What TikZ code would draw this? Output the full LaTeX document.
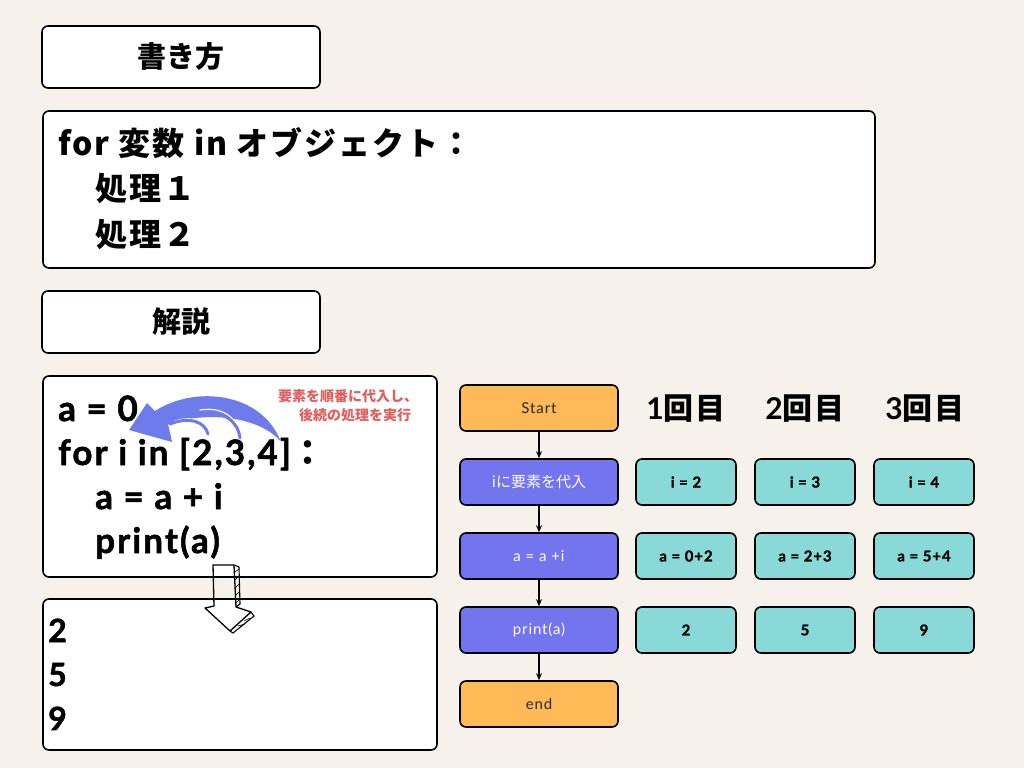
\documentclass[tikz,border=0pt]{standalone}
\usepackage{fontspec}
\setmainfont{Lato}
\newfontfamily\lat{Lato}[LetterSpace=6, BoldFeatures={FakeBold=1.5}]
\newfontfamily\latw{Lato}[LetterSpace=6, BoldFeatures={FakeBold=1.2}]
\newfontfamily\cjk{Noto Sans CJK JP}
\newfontfamily\cjkw{Noto Sans CJK JP}[LetterSpace=6]
\usetikzlibrary{arrows.meta}
\definecolor{bg}{HTML}{F6F2EB}
\definecolor{orng}{HTML}{FFB957}
\definecolor{viol}{HTML}{7275EE}
\definecolor{teal2}{HTML}{88D9D8}
\definecolor{redtxt}{HTML}{E35D5D}
\definecolor{bluearr}{HTML}{6E7BEB}
\tikzset{
  panel/.style={draw=black, line width=1.6pt, fill=white, rounded corners=6pt},
  flow/.style={draw=black, line width=1.6pt, rounded corners=6pt, minimum width=158pt, minimum height=46pt, inner sep=0pt, font=\latw\fontsize{15}{15}\selectfont},
  orbox/.style={flow, fill=orng, text=black!85},
  vibox/.style={flow, fill=viol, text=white},
  tbox/.style={draw=black, line width=1.6pt, rounded corners=6pt, fill=teal2, minimum width=100pt, minimum height=46pt, inner sep=0pt, font=\latw\fontsize{15}{15}\selectfont\bfseries},
  farrow/.style={-{Stealth[length=7pt,width=6pt]}, line width=1.3pt},
  codetxt/.style={anchor=base west, inner sep=0pt, font=\lat\fontsize{35}{35}\selectfont\bfseries},
  cjktxt/.style={anchor=base west, inner sep=0pt, font=\cjkw\fontsize{32}{32}\selectfont\bfseries},
  head/.style={inner sep=0pt, font=\fontsize{30}{30}\selectfont\bfseries}
}
\begin{document}
\begin{tikzpicture}[x=1pt,y=-1pt]
\fill[bg] (0,0) rectangle (1024,768);
\useasboundingbox (0,0) rectangle (1024,768);

% title boxes
\node[panel, minimum width=278pt, minimum height=62pt, inner sep=0pt, font=\cjk\fontsize{29}{29}\selectfont\bfseries] (t1) at (181,57) {書き方};
\draw[panel] (43,111) rectangle (875,268);
\node[cjktxt] (l1) at (58,155) {for 変数 in オブジェクト：};
\node[cjktxt] (l2) at (95,200) {処理１};
\node[cjktxt] (l3) at (95,246) {処理２};
\node[panel, minimum width=278pt, minimum height=62pt, inner sep=0pt, font=\cjk\fontsize{29}{29}\selectfont\bfseries] (t2) at (181,322) {解説};

% code box
\draw[panel] (43,376) rectangle (437,577);
\node[codetxt] (c1) at (58,421) {a = 0};
\node[codetxt] (c2) at (58,465) {for i in [2,3,4]{\cjk：}};
\node[codetxt] (c3) at (95,509) {a = a + i};
\node[codetxt] (c4) at (95,553) {print(a)};
\node[text=redtxt, inner sep=0pt, align=center, font=\cjk\fontsize{14}{19}\selectfont\bfseries] (note) at (348,406) {要素を順番に代入し、\\\hspace*{14pt}後続の処理を実行};

% blue curved arrow
\fill[bluearr] (129,430) -- (147,403) -- (155,411)
  .. controls (195,385) and (262,392) .. (281,442)
  .. controls (262,418) and (210,410) .. (168,424)
  -- (172,442) -- cycle;
\draw[white, line width=1.2pt, line cap=round] (175,421) .. controls (195,415) and (205,422) .. (209,432);
\draw[white, line width=1.2pt, line cap=round] (200,410) .. controls (225,406) and (238,420) .. (241,436);
\draw[bluearr, line width=3pt, line cap=round] (170,424) .. controls (190,416) and (205,422) .. (208,434);
\draw[bluearr, line width=3pt, line cap=round] (200,414) .. controls (225,410) and (238,422) .. (240,438);

% output box
\draw[panel] (43,599) rectangle (437,750);
\node[codetxt, font=\lat\fontsize{32}{32}\selectfont\bfseries] (o1) at (48,642) {2};
\node[codetxt, font=\lat\fontsize{32}{32}\selectfont\bfseries] (o2) at (48,686) {5};
\node[codetxt, font=\lat\fontsize{32}{32}\selectfont\bfseries] (o3) at (48,730) {9};

% hand drawn down arrow
\draw[line width=1.3pt, line join=round] (213,565) -- (214,606) -- (205,608) -- (230,631) -- (251,612) -- (236,607) -- (234,565) -- cycle;
\draw[line width=1.1pt] (234,565) -- (239,567) -- (240,604) -- (236,607);
\draw[line width=0.6pt] (235,572) -- (239,569) (235,580) -- (239,576) (235,588) -- (239,584) (235,596) -- (239,592) (236,603) -- (239,600);
\draw[line width=1.1pt] (251,612) -- (254,616) -- (233,633) -- (230,631);
\draw[line width=0.6pt] (238,626) -- (245,624) (244,621) -- (250,618);

% flowchart
\node[orbox] (s) at (539,408) {Start};
\node[vibox, font=\cjk\fontsize{15}{15}\selectfont] (f1) at (539,482) {iに要素を代入};
\node[vibox] (f2) at (539,556) {a = a +i};
\node[vibox] (f3) at (539,630) {print(a)};
\node[orbox] (e) at (539,704) {end};
\draw[farrow] (s) -- (f1);
\draw[farrow] (f1) -- (f2);
\draw[farrow] (f2) -- (f3);
\draw[farrow] (f3) -- (e);

% headers
\node[head] (h1) at (686,409) {1{\cjkw 回目}};
\node[head] (h2) at (805,409) {2{\cjkw 回目}};
\node[head] (h3) at (925,409) {3{\cjkw 回目}};

% teal grid
\node[tbox] (a1) at (686,482) {i = 2};
\node[tbox] (a2) at (805,482) {i = 3};
\node[tbox] (a3) at (924,482) {i = 4};
\node[tbox] (b1) at (686,556) {a = 0+2};
\node[tbox] (b2) at (805,556) {a = 2+3};
\node[tbox] (b3) at (924,556) {a = 5+4};
\node[tbox] (d1) at (686,630) {2};
\node[tbox] (d2) at (805,630) {5};
\node[tbox] (d3) at (924,630) {9};
\end{tikzpicture}
\end{document}
